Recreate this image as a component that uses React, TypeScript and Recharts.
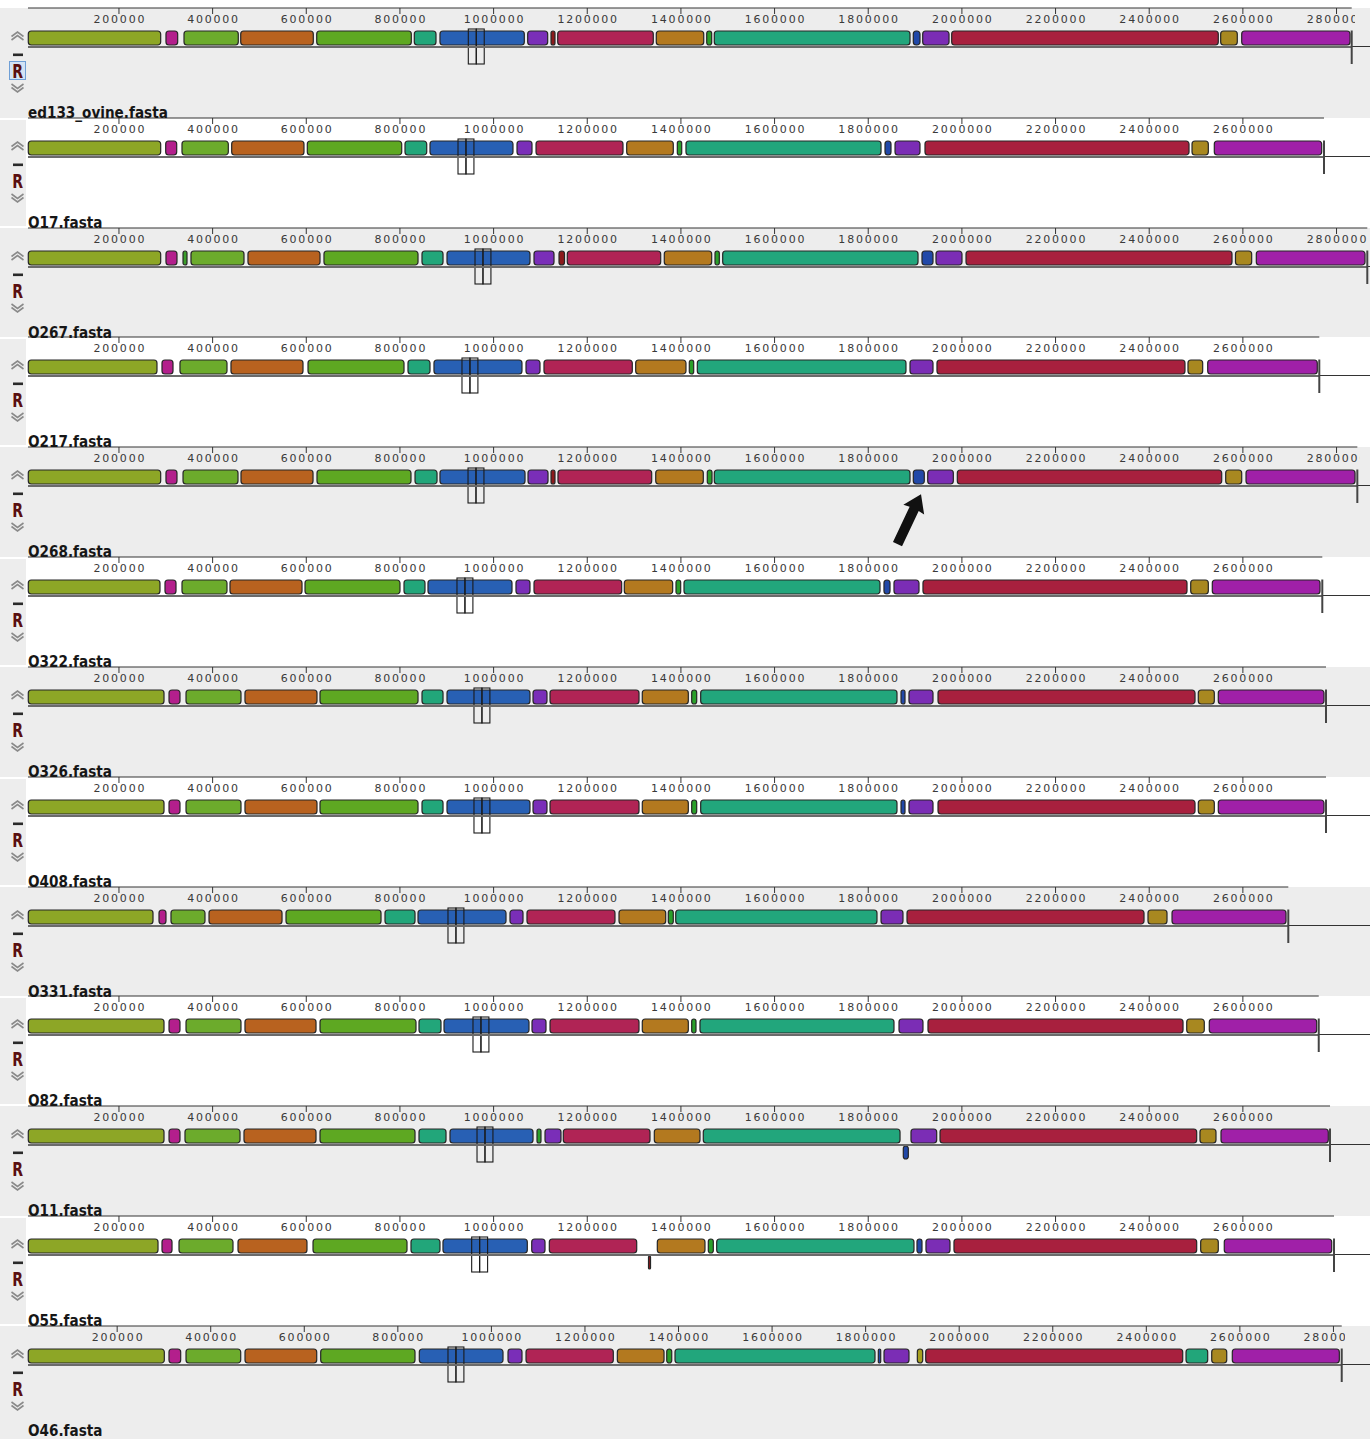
import React from 'react';
import { ComposedChart, XAxis, YAxis, ReferenceArea, ReferenceLine, ReferenceDot, Rectangle } from 'recharts';

type Block = { lcb: string; start: number; end: number; strand: number };
const b = (lcb: string, start: number, end: number, strand = 1): Block => ({ lcb, start, end, strand });

// ---------------- data ----------------
const genomeNames = [
  'ed133_ovine.fasta', 'O17.fasta', 'O267.fasta', 'O217.fasta', 'O268.fasta', 'O322.fasta', 'O326.fasta',
  'O408.fasta', 'O331.fasta', 'O82.fasta', 'O11.fasta', 'O55.fasta', 'O46.fasta',
];
const genomeLengths = [2832400, 2773200, 2865700, 2763200, 2844400, 2769600, 2777500, 2777500, 2697000, 2762000, 2786100, 2794600, 2817700];
const tickValues = [200000, 400000, 600000, 800000, 1000000, 1200000, 1400000, 1600000, 1800000, 2000000, 2200000, 2400000, 2600000, 2800000];
const markerStarts = [946000, 924000, 960300, 932500, 945400, 921800, 958100, 958100, 902600, 956000, 964600, 953200, 907200];
const markerWidth = 17000;
const arrowGenome = 4;
const arrowPosition = 1912700;

const lcbColors: Record<string, string> = {
  A: '#8da626', B: '#b31f8c', B2: '#3a9e2a', C: '#6cab2c', D: '#b8621f', E: '#5ea822', F: '#22a67a', G: '#2860b4',
  H: '#7a2eb8', I: '#8c1a1c', J: '#b02455', K: '#b3791f', L: '#2a9f2a', M: '#22a67c', N: '#2148a8', O: '#7b2db5',
  P: '#a8203e', Q: '#a88820', R: '#a020a8', S: '#a8a020',
};

const ed133Blocks = [
  b('A', 6400, 289100), b('B', 300400, 325400), b('C', 338900, 454800), b('D', 460000, 615000), b('E', 622300, 824300),
  b('F', 830700, 877000), b('G', 885500, 1065600), b('H', 1072800, 1115500), b('I', 1122600, 1131100), b('J', 1136900, 1341000),
  b('K', 1347400, 1448700), b('L', 1455100, 1465700), b('M', 1471300, 1889200), b('N', 1896200, 1910500), b('O', 1916300, 1972500),
  b('P', 1978200, 2547500), b('Q', 2552600, 2588100), b('R', 2597500, 2828800),
];
const o17Blocks = [
  b('A', 6400, 289100), b('B', 299800, 323300), b('C', 334600, 433500), b('D', 440700, 595100), b('E', 602200, 803800),
  b('F', 810800, 857200), b('G', 864200, 1041400), b('H', 1050000, 1082000), b('J', 1090600, 1276300), b('K', 1284200, 1383700),
  b('L', 1392300, 1401700), b('M', 1410800, 1827300), b('N', 1835800, 1848600), b('O', 1857200, 1910500), b('P', 1921200, 2485000),
  b('Q', 2491400, 2526200), b('R', 2539000, 2768300),
];
const o267Blocks = [
  b('A', 6400, 289100), b('B', 300400, 323900), b('B2', 336800, 345300), b('C', 353800, 467000), b('D', 475500, 629300),
  b('E', 637800, 838600), b('F', 847100, 892000), b('G', 900500, 1077700), b('H', 1086300, 1129000), b('I', 1139700, 1151400),
  b('J', 1157400, 1356800), b('K', 1364500, 1465700), b('L', 1472800, 1482000), b('M', 1489200, 1906300), b('N', 1914800, 1938300),
  b('O', 1944700, 2000200), b('P', 2008800, 2576800), b('Q', 2584200, 2618800), b('R', 2628700, 2860800),
];
const o217Blocks = [
  b('A', 6400, 281200), b('B', 291900, 315400), b('C', 330300, 430700), b('D', 439200, 593000), b('E', 603700, 808700),
  b('F', 817200, 864200), b('G', 872700, 1060600), b('H', 1069200, 1099100), b('J', 1107600, 1296200), b('K', 1303400, 1410800),
  b('L', 1417900, 1427300), b('M', 1435000, 1880600), b('O', 1889200, 1938300), b('P', 1946800, 2476400), b('Q', 2482800, 2514200),
  b('R', 2524900, 2758900),
];
const o268Blocks = [
  b('A', 6400, 289100), b('B', 300400, 323900), b('C', 336800, 454200), b('D', 460600, 614400), b('E', 622900, 823600),
  b('F', 832200, 879200), b('G', 885500, 1067100), b('H', 1073500, 1116200), b('I', 1122600, 1131100), b('J', 1137500, 1337600),
  b('K', 1346200, 1447800), b('L', 1456300, 1466400), b('M', 1471300, 1889200), b('N', 1896200, 1919700), b('O', 1927000, 1981700),
  b('P', 1990200, 2554800), b('Q', 2563300, 2597500), b('R', 2606700, 2839500),
];
const o322Blocks = [
  b('A', 6400, 287600), b('B', 298300, 321800), b('C', 334600, 430700), b('D', 437100, 590900), b('E', 597300, 800100),
  b('F', 808700, 853500), b('G', 859900, 1039300), b('H', 1047800, 1077700), b('J', 1086300, 1273500), b('K', 1279100, 1382400),
  b('L', 1389500, 1399500), b('M', 1406600, 1825100), b('N', 1833600, 1846500), b('O', 1855000, 1908400), b('P', 1916900, 2480700),
  b('Q', 2488600, 2526200), b('R', 2534700, 2764700),
];
const o326Blocks = [
  b('A', 6400, 296200), b('B', 306900, 330300), b('C', 343200, 460600), b('D', 469100, 622900), b('E', 629300, 838600),
  b('F', 847100, 892000), b('G', 900500, 1077700), b('H', 1084200, 1114000), b('J', 1120500, 1310500), b('K', 1317500, 1415800),
  b('L', 1423000, 1433700), b('M', 1442200, 1861400), b('N', 1870000, 1878500), b('O', 1887000, 1938300), b('P', 1949000, 2497800),
  b('Q', 2504800, 2539000), b('R', 2547500, 2773200),
];
const o408Blocks = [
  b('A', 6400, 296200), b('B', 306900, 330300), b('C', 343200, 460600), b('D', 469100, 622900), b('E', 629300, 838600),
  b('F', 847100, 892000), b('G', 900500, 1077700), b('H', 1084200, 1114000), b('J', 1120500, 1310500), b('K', 1317500, 1415800),
  b('L', 1423000, 1433700), b('M', 1442200, 1861400), b('N', 1870000, 1878500), b('O', 1887000, 1938300), b('P', 1949000, 2497800),
  b('Q', 2504800, 2539000), b('R', 2547500, 2773200),
];
const o331Blocks = [
  b('A', 6400, 272700), b('B', 285500, 300400), b('C', 311100, 383700), b('D', 392300, 548200), b('E', 556700, 759600),
  b('F', 768100, 832200), b('G', 838600, 1026500), b('H', 1035000, 1062800), b('J', 1071300, 1259200), b('K', 1267800, 1367500),
  b('L', 1373100, 1383700), b('M', 1388900, 1818700), b('O', 1827300, 1874200), b('P', 1882800, 2388900), b('Q', 2397400, 2438000),
  b('R', 2448700, 2692100),
];
const o82Blocks = [
  b('A', 6400, 296200), b('B', 306900, 330300), b('C', 343200, 460600), b('D', 469100, 620800), b('E', 629300, 834300),
  b('F', 840700, 887700), b('G', 894100, 1075600), b('H', 1082000, 1111900), b('J', 1120500, 1310500), b('K', 1317500, 1415800),
  b('L', 1423000, 1432200), b('M', 1440700, 1855000), b('O', 1865700, 1916900), b('P', 1927600, 2472200), b('Q', 2480100, 2517600),
  b('R', 2528300, 2757700),
];
const o11Blocks = [
  b('A', 6400, 296200), b('B', 306900, 330300), b('C', 341000, 458500), b('D', 467000, 620800), b('E', 629300, 832200),
  b('F', 840700, 898400), b('G', 906900, 1084200), b('L', 1092700, 1101200), b('H', 1109800, 1143900), b('J', 1148900, 1334000),
  b('K', 1343200, 1440700), b('M', 1447800, 1867900), b('N', 1874900, 1885600, -1), b('O', 1891300, 1946200), b('P', 1953300, 2501400),
  b('Q', 2508400, 2542600), b('R', 2553300, 2782400),
];
const o55Blocks = [
  b('A', 6400, 283400), b('B', 291900, 313300), b('C', 328200, 443500), b('D', 454200, 601500), b('E', 614400, 815100),
  b('F', 823600, 885500), b('G', 891900, 1072000), b('H', 1081400, 1109800), b('J', 1119000, 1305600), b('I', 1330800, 1335100, -1),
  b('K', 1349600, 1451400), b('L', 1458500, 1469200), b('M', 1476400, 1897700), b('N', 1904100, 1914800), b('O', 1923300, 1974600),
  b('P', 1983100, 2501400), b('Q', 2509900, 2547500), b('R', 2560300, 2789700),
];
const o46Blocks = [
  b('A', 10000, 300800), b('B', 310800, 335800), b('C', 347200, 464100), b('D', 473300, 626600), b('E', 635100, 836700),
  b('G', 845900, 1024800), b('H', 1035500, 1065400), b('J', 1074000, 1260600), b('K', 1269200, 1369000), b('L', 1374800, 1385500),
  b('M', 1392500, 1820000), b('N', 1827100, 1832200), b('O', 1839300, 1892700), b('S', 1910500, 1922000), b('P', 1928400, 2477800),
  b('F', 2484900, 2531200), b('Q', 2539800, 2571900), b('R', 2583800, 2812600),
];
const genomeBlocks = [ed133Blocks, o17Blocks, o267Blocks, o217Blocks, o268Blocks, o322Blocks, o326Blocks, o408Blocks, o331Blocks, o82Blocks, o11Blocks, o55Blocks, o46Blocks];

// ---------------- layout ----------------
const PAGE_W = 1370;
const PAGE_H = 1439;
const TRACK_TOPS = [0, 110, 220, 329, 439, 549, 659, 769, 879, 988, 1098, 1208, 1318];
const TRACK_H = 110;
const AXIS_LEFT = 28;
const RIGHT_PAD = 3;
const GRAY = '#ededed';
const Y_DOMAIN: [number, number] = [-63, 39];
const FWD: [number, number] = [2, 16];
const REV: [number, number] = [-14, -1];
const MARK: [number, number] = [-17, 18];
const ENDLINE: [number, number] = [-17, 16.5];
const scaleFor = (i: number) => (i === 12 ? { x0: 23.6, ppb: 467.8e-6 } : { x0: 25.3, ppb: 468.3e-6 });
const FONT = 'DejaVu Sans, Verdana, sans-serif';

const AxisTick = (props: any) => {
  const { x, y, payload } = props;
  return (
    <text x={x + 0.9} y={y + 8} textAnchor="middle" fontFamily={FONT} fontSize={11} letterSpacing={1.8} fill="#3a3a3a">
      {payload.value}
    </text>
  );
};

const BlockShape = (p: any) => (
  <Rectangle x={p.x} y={p.y} width={p.width} height={p.height} radius={3} fill={p.fill} stroke={p.stroke} strokeWidth={p.strokeWidth} />
);
const MarkerShape = (p: any) => (
  <rect x={p.x} y={p.y} width={p.width} height={p.height} fill="none" stroke="#1a1a1a" strokeWidth={1.1} />
);
const ArrowShape = (p: any) => {
  const { cx, cy } = p;
  const pts = [[0, 0], [11.5, 17], [5, 16], [5, 55], [-5, 55], [-5, 16], [-11.5, 17]]
    .map(([dx, dy]) => `${cx + dx},${cy + dy}`)
    .join(' ');
  return (
    <g transform={`rotate(25.3 ${cx} ${cy})`}>
      <polygon points={pts} fill="#111" />
    </g>
  );
};

function Track({ idx }: { idx: number }) {
  const blocks = genomeBlocks[idx];
  const len = genomeLengths[idx];
  const sc = scaleFor(idx);
  const domainStart = (AXIS_LEFT - sc.x0) / sc.ppb;
  const endPx = sc.x0 + len * sc.ppb;
  const width = endPx + RIGHT_PAD;
  const ticks = tickValues.filter((t) => t <= len);
  const m = markerStarts[idx];
  return (
    <div style={{ position: 'absolute', left: 0, top: TRACK_TOPS[idx], width, height: TRACK_H }}>
      <ComposedChart width={width} height={TRACK_H} data={blocks} margin={{ top: 8, right: RIGHT_PAD, bottom: 0, left: AXIS_LEFT }}>
        <XAxis
          type="number"
          dataKey="start"
          orientation="top"
          mirror
          domain={[domainStart, len]}
          allowDataOverflow
          ticks={ticks}
          interval={0}
          tickSize={6}
          tickMargin={1}
          stroke="#333"
          tick={AxisTick}
        />
        <YAxis type="number" hide domain={Y_DOMAIN} allowDataOverflow />
        <ReferenceLine y={0} stroke="#6b6b6b" strokeWidth={2} />
        {blocks.map((blk, k) => {
          const [y1, y2] = blk.strand > 0 ? FWD : REV;
          return (
            <ReferenceArea
              key={k}
              x1={blk.start}
              x2={blk.end}
              y1={y1}
              y2={y2}
              fill={lcbColors[blk.lcb]}
              fillOpacity={1}
              stroke="#262626"
              strokeWidth={1.2}
              ifOverflow="visible"
              shape={BlockShape}
            />
          );
        })}
        <ReferenceArea x1={m} x2={m + markerWidth} y1={MARK[0]} y2={MARK[1]} ifOverflow="visible" shape={MarkerShape} />
        <ReferenceArea x1={m + markerWidth} x2={m + 2 * markerWidth} y1={MARK[0]} y2={MARK[1]} ifOverflow="visible" shape={MarkerShape} />
        <ReferenceLine
          segment={[{ x: len, y: ENDLINE[0] }, { x: len, y: ENDLINE[1] }]}
          stroke="#444"
          strokeWidth={2}
          ifOverflow="visible"
        />
        {idx === arrowGenome && (
          <ReferenceDot x={arrowPosition} y={-8.3} r={1} ifOverflow="visible" shape={ArrowShape} />
        )}
      </ComposedChart>
    </div>
  );
}

function Decorations() {
  return (
    <svg width={PAGE_W} height={PAGE_H} style={{ position: 'absolute', left: 0, top: 0, pointerEvents: 'none' }}>
      {TRACK_TOPS.map((t, i) => (
        <g key={i} transform={`translate(0, ${t})`}>
          <polyline points="11.5,36.5 17.5,32 23.5,36.5" fill="none" stroke="#8a8a8a" strokeWidth={1.6} />
          <polyline points="11.5,40 17.5,35.5 23.5,40" fill="none" stroke="#8a8a8a" strokeWidth={1.6} />
          <rect x={13} y={53.5} width={10} height={2.6} fill="#2a2a2a" />
          {i === 0 && <rect x={9.5} y={61.5} width={16} height={18} fill="#d3e3f5" stroke="#6f9fd6" strokeWidth={1} />}
          <text transform="translate(17.6, 77.8) scale(0.72, 1)" textAnchor="middle" fontFamily={FONT} fontWeight="bold" fontSize={19.5} fill="#5a0f10">
            R
          </text>
          <polyline points="11.5,84 17.5,88.5 23.5,84" fill="none" stroke="#8a8a8a" strokeWidth={1.6} />
          <polyline points="11.5,87.5 17.5,92 23.5,87.5" fill="none" stroke="#8a8a8a" strokeWidth={1.6} />
          <text transform="translate(28, 118) scale(1, 1.22)" fontFamily={FONT} fontWeight="bold" fontSize={13.6} fill="#161616">
            {genomeNames[i]}
          </text>
        </g>
      ))}
    </svg>
  );
}

export default function App() {
  return (
    <div style={{ position: 'absolute', left: 0, top: 0, width: PAGE_W, height: PAGE_H, background: '#fff', overflow: 'hidden' }}>
      {TRACK_TOPS.map((t, i) => {
        const next = i < TRACK_TOPS.length - 1 ? TRACK_TOPS[i + 1] + 8 : PAGE_H;
        return i % 2 === 0 ? (
          <div key={`bg${i}`} style={{ position: 'absolute', left: 0, top: t + 8, width: PAGE_W, height: next - (t + 8), background: GRAY }} />
        ) : (
          <div key={`bg${i}`} style={{ position: 'absolute', left: 0, top: t + 10, width: 26, height: next - (t + 12), background: GRAY }} />
        );
      })}
      {TRACK_TOPS.map((t, i) => {
        const sc = scaleFor(i);
        const endPx = sc.x0 + genomeLengths[i] * sc.ppb;
        return (
          <div key={`ext${i}`} style={{ position: 'absolute', left: endPx, top: t + 46, width: PAGE_W - endPx, height: 1, background: '#333' }} />
        );
      })}
      {TRACK_TOPS.map((_, i) => (
        <Track key={i} idx={i} />
      ))}
      <Decorations />
    </div>
  );
}
